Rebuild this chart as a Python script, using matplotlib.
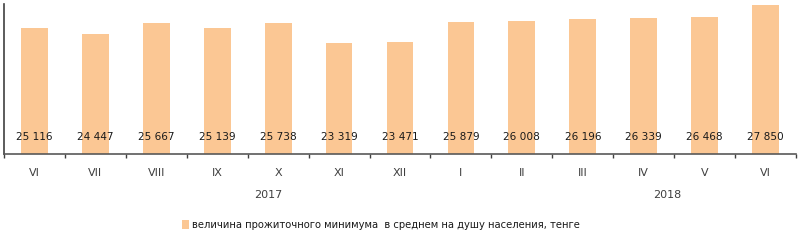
import matplotlib
matplotlib.use("Agg")
import matplotlib.pyplot as plt
import numpy as np

months = ["VI", "VII", "VIII", "IX", "X", "XI", "XII", "I", "II", "III", "IV", "V", "VI"]
values = [25116, 24447, 25667, 25139, 25738, 23319, 23471, 25879, 26008, 26196, 26339, 26468, 27850]
years = ["2017", "2018"]
year_pos = [3.83, 10.39]
legend_label = "величина прожиточного минимума  в среднем на душу населения, тенге"

bar_color = "#FBC794"

fig = plt.figure(figsize=(8, 2.44), dpi=100)
ax = fig.add_axes([0.005, 0.369, 0.99, 0.615])

x = np.arange(len(values))
bars = ax.bar(x, values, width=0.44, color=bar_color, label=legend_label)

ax.set_xlim(-0.5, len(values) - 0.5)
ax.set_ylim(10000, 28000)

for xi, v in zip(x, values):
    ax.annotate(f"{v:,}".replace(",", " "), xy=(xi, 10000), xytext=(0, 12.2),
                textcoords="offset points", ha="center", va="center",
                fontsize=7.6, color="#1a1a1a")

ax.set_xticks(x)
ax.set_xticklabels(months, fontsize=8, color="#404040")
ax.tick_params(axis="x", which="major", length=0, pad=10)
ax.set_xticks(np.arange(-0.5, len(values), 1.0), minor=True)
ax.tick_params(axis="x", which="minor", length=3, width=1, color="#404040")
ax.set_yticks([])

for name, xp in zip(years, year_pos):
    ax.annotate(name, xy=(xp, 0), xycoords=("data", "axes fraction"),
                xytext=(0, -29.5), textcoords="offset points",
                ha="center", va="center", fontsize=8, color="#404040")

ax.spines["top"].set_visible(False)
ax.spines["right"].set_visible(False)
ax.spines["left"].set_color("#404040")
ax.spines["left"].set_linewidth(1.2)
ax.spines["bottom"].set_color("#595959")
ax.spines["bottom"].set_linewidth(1.2)

fig.legend(loc="center", bbox_to_anchor=(381 / 800, 0.078), frameon=False,
           fontsize=7.2, handlelength=0.7, handleheight=0.9, handletextpad=0.3,
           labelcolor="#1a1a1a")

fig.savefig("out.png", dpi=100)
